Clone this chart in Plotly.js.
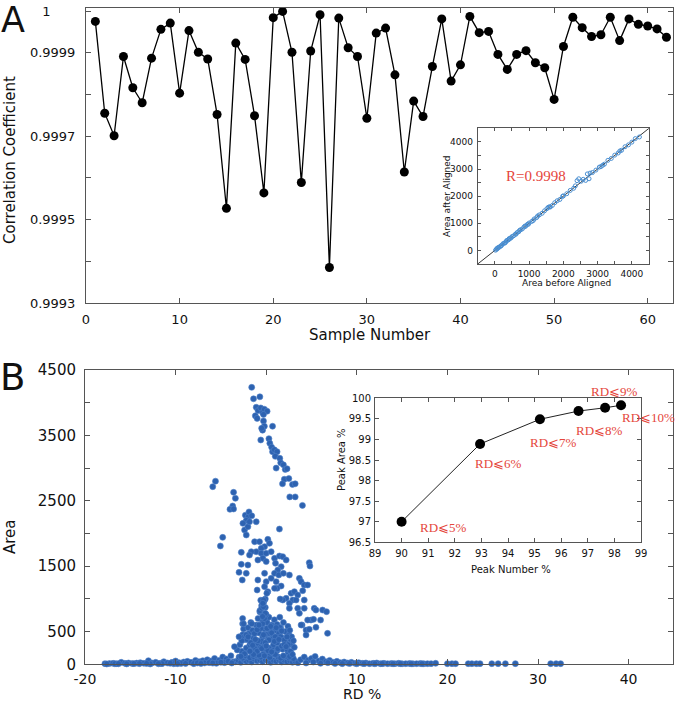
<!DOCTYPE html>
<html>
<head>
<meta charset="utf-8">
<script src="https://cdn.plot.ly/plotly-3.0.1.min.js"></script>
<style>
  body { margin: 0; background: #fff; }
  #chart { width: 675px; height: 704px; }
</style>
</head>
<body>
<div id="chart"></div>
<script>
// Panel A: correlation coefficient per sample
const sampleNo = [];
for (let i = 1; i <= 62; i++) sampleNo.push(i);
const corrCoef = [
  0.999975, 0.999755, 0.999701, 0.999891, 0.999816, 0.99978, 0.999887, 0.999956, 0.999971, 0.999803,
  0.999953, 0.999901, 0.999885, 0.999752, 0.999527, 0.999923, 0.999884, 0.999749, 0.999564, 0.999984,
  0.999999, 0.999901, 0.999589, 0.999904, 0.999991, 0.999385, 0.999983, 0.999912, 0.999891, 0.999743,
  0.999947, 0.999959, 0.999847, 0.999614, 0.999784, 0.999747, 0.999867, 0.999981, 0.999832, 0.999871,
  0.999987, 0.999948, 0.999951, 0.999896, 0.99986, 0.999896, 0.999905, 0.999876, 0.999864, 0.999788,
  0.999915, 0.999985, 0.99996, 0.999939, 0.999943, 0.999985, 0.999929, 0.999981, 0.999968, 0.999964,
  0.999957, 0.999937
];

// inset A: area before vs after alignment
const areaBefore = [20, 50, 80, 100, 130, 160, 200, 240, 280, 320, 360, 400, 450, 500, 550, 600, 650, 700, 750, 800,
  850, 900, 950, 1000, 1080, 1150, 1220, 1300, 1380, 1450, 1520, 1600, 1680, 1750, 1820, 1900, 2000, 2100, 2200, 2300,
  2350, 2400, 2450, 2520, 2580, 2650, 2750, 2700, 2780, 2850, 2950, 3050, 3100, 3200, 3300, 3400, 3500, 3600, 3700, 3800,
  3900, 4000, 4100, 4220, 300, 420, 620, 880, 1120, 1560, 60, 180, 340, 480, 720, 980, 1250, 1620, 1980, 3150, 3650];
const areaAfter = [10, 40, 70, 110, 120, 150, 190, 250, 270, 310, 370, 390, 440, 510, 540, 600, 660, 690, 760, 790,
  860, 890, 960, 1010, 1070, 1160, 1210, 1310, 1370, 1460, 1540, 1610, 1660, 1760, 1830, 1880, 2010, 2090, 2210, 2290,
  2380, 2570, 2640, 2550, 2620, 2580, 2640, 2820, 2850, 2870, 2960, 3070, 3090, 3180, 3320, 3390, 3510, 3590, 3690, 3820,
  3890, 3990, 4120, 4180, 280, 440, 600, 900, 1100, 1590, 75, 170, 355, 470, 735, 965, 1270, 1600, 1995, 3140, 3665];
const diagX = [-500, 4500];

// Panel B: area vs RD %
const upperRD = [-1.6, -1.4, -0.7, -1.1, -0.9, -1.2, -0.6, -1.0, -0.4, -0.2, 0.1, -0.3, -0.3, -0.2, -0.4, -0.5, 0.7, -0.6,
  0.3, 0.4, 0.6, 0.7, 0.9, 1.2, 1.0, 1.5, 1.6, 1.1, 1.9, 2.1, 2.3, 2.0, 2.5, 2.9, 1.8, 3.2, 2.6, 3.2, 4.0];
const upperArea = [4235, 4060, 4090, 3930, 3880, 3800, 3920, 3760, 3850, 3900, 3870, 3820, 3720, 3640, 3580, 3610, 3640, 3430,
  3450, 3380, 3320, 3250, 3280, 3250, 3180, 3150, 3080, 3000, 3050, 2980, 2990, 2830, 2840, 2750, 2760, 2760, 2560, 2560, 2430];

const midRD = [-5.9, -5.6, -3.6, -3.4, -3.7, -4.0, -3.6, -2.3, -2.0, -1.9, -2.2, -1.6,
  -2.57, -2.39, -2.02, -2.2, -1.84, -1.1, 1.46, -4.8, -5.06, -1.28, -0.74, 0.18, 0.36, -0.18, -0.55, -1.1, -1.65, -1.84,
  -0.55, 0.0, 0.55, -2.75, -0.37, -0.92, 0.0, 0.92, 1.46, 1.83, 2.2, 1.03, 1.65, 1.28, 0.92, 4.75, 4.83,
  -2.75, -2.02, -3.0, -2.2, -2.64, -0.92, -0.18, 0.0, 0.55, 1.39, 1.9, 2.56, 1.1, 1.65, 1.21, 0.92,
  -1.0, -0.18, 0.18, 0.07, -0.29, -0.37, 2.75, 3.66, 3.85, 4.2, 4.57, 3.11, 3.48, 4.03,
  2.93, 3.3, 2.2, 1.83, 1.54, 2.56, 2.56, 4.2, 4.2, 3.48, 3.66, 5.3, 5.49, 6.22, 6.66,
  4.94, 4.57, 5.23, 3.96, 4.4, 4.75, 5.49, 6.77, 4.4, 3.85, 6.0];
const midArea = [2716, 2800, 2630, 2538, 2420, 2370, 2375, 2280, 2250, 2330, 2200, 2270,
  2155, 2053, 2104, 1977, 2180, 2180, 2068, 1941, 1809, 1875, 1875, 1911, 1850, 1799, 1773, 1722, 1722, 1671,
  1697, 1697, 1722, 1712, 1621, 1595, 1570, 1621, 1656, 1646, 1595, 1544, 1493, 1442, 1391, 1554, 1503,
  1529, 1518, 1406, 1391, 1289, 1289, 1391, 1264, 1314, 1365, 1391, 1365, 1264, 1197, 1162, 1162,
  1136, 1187, 1111, 1085, 983, 932, 1085, 1314, 1264, 1213, 1213, 1111, 1060, 1126,
  983, 983, 1009, 983, 998, 932, 856, 983, 856, 856, 779, 856, 830, 830, 805,
  677, 677, 687, 601, 524, 535, 565, 473, 448, 601, 677];

const lowRD = [-2.6, -2.6, -2.5, -2.6, -2.3, -2.0, -1.9, -1.7, -1.5, -1.4, -1.2, -1.1, -0.9, -0.8, -0.7, -0.6, -0.5, -0.4,
  -0.4, -0.3, -0.2, -0.2, -0.1, 0.0, 0.1, 0.2, 0.3, 0.5, 0.6, 0.7, 0.9, 1.0, 1.1, 1.2, 1.4, 1.5, 1.6, 1.8, 1.9, 2.1,
  2.2, 2.4, 2.5, 2.7, 2.8, -3.2, -2.9, -2.2, -1.8, -1.3, -0.9, -0.6, -0.2, 0.3, 0.8, 1.3, 1.7, 2.3, 2.7, -0.1,
  -0.3, 0.0, -0.6, -3.5, -2.4, -1.6, -0.8, 0.4, 1.0, 1.9, 2.6, -1.0, -0.5, 0.2, 0.6, -1.4, -2.8, 2.9, 3.1, -0.2,
  -0.5, -0.3, -0.6, -0.4, -0.2, -0.7, -0.5, -0.3, -0.1, -0.4, -2.4, -2.1, -1.7, -1.3, -0.9, 0.4, 0.8, 1.2, 1.6, 2.0,
  2.4, 2.8, -2.7, -2.2, -1.5, -1.0, 0.1, 0.6, 1.0, 1.5, 2.0, 2.6, -1.8, -1.2, 0.3, 0.9, 1.4, 2.2, -3.0, 3.0,
  -0.8, -0.1, 0.5, 1.1, 1.7, -2.0, -1.6, 2.3, -2.5, 0.0];
const lowArea = [700, 620, 540, 450, 380, 560, 470, 640, 520, 400, 330, 600, 700, 480, 800, 560, 900, 650,
  420, 750, 980, 540, 870, 460, 640, 380, 720, 520, 600, 430, 680, 520, 360, 610, 470, 720, 560, 400, 640, 500,
  330, 580, 450, 380, 300, 220, 300, 250, 300, 250, 320, 260, 300, 250, 300, 240, 280, 230, 200, 1000,
  940, 760, 980, 270, 160, 180, 140, 170, 150, 130, 120, 200, 240, 210, 190, 150, 120, 150, 260, 130,
  350, 450, 550, 620, 700, 820, 860, 880, 780, 730, 420, 380, 330, 470, 360, 470, 400, 330, 420, 370,
  300, 420, 360, 450, 290, 530, 550, 480, 420, 560, 300, 520, 200, 380, 370, 350, 380, 270, 420, 360,
  600, 330, 580, 560, 510, 420, 620, 420, 620, 280];

const baseRD = [-17.8, -17.3, -16.9, -16.5, -16.0, -15.6, -15.2, -14.8, -14.3, -13.9, -13.5, -13.0, -12.6, -12.2, -11.7,
  -11.3, -10.9, -10.4, -10.0, -9.6, -9.1, -8.7, -8.3, -7.8, -7.4, -7.0, -6.5, -6.1, -5.7, -5.2, -4.8, -4.4, -3.9,
  -17.6, -16.7, -15.4, -14.0, -12.8, -11.5, -10.2, -9.4, -8.0, -6.8, -5.5, -4.6, -3.6,
  -3.4, -3.1, -2.8, -2.5, -2.2, -1.9, -1.6, -1.3, -1.0, -0.7, -0.4, -0.1, 0.2, 0.5, 0.8, 1.1, 1.4, 1.7, 2.0, 2.3, 2.6, 2.9, 3.2, 3.5,
  -3.0, -2.6, -2.3, -1.8, -1.4, -1.1, -0.6, -0.3, 0.1, 0.4, 0.9, 1.3, 1.6, 2.2, 2.5, 3.0,
  -2.7, -2.1, -1.5, -0.9, -0.2, 0.3, 0.7, 1.2, 1.8, 2.4,
  3.8, 4.2, 4.6, 5.0, 5.4, 5.8, 6.2, 6.6, 7.0, 7.4, 7.8, 8.2, 8.6, 9.0, 9.4, 9.8, 10.2, 10.6, 11.0, 11.4, 11.8, 12.2,
  12.6, 13.0, 13.4, 13.8, 14.2, 14.6, 15.0, 15.4, 15.8, 16.2, 16.6, 17.0, 17.4, 17.8, 18.2, 18.7, 20.0, 20.5, 20.9,
  22.3, 22.7, 23.2, 23.6, 24.9, 25.6, 26.4, 27.5, 31.4, 32.0, 32.5,
  -16.3, -14.6, -13.2, -11.9, -10.6, -9.8, -8.9, -7.6, -7.2, -6.3, -5.9, -5.0, -4.2, -3.8, 4.4, 5.2, 6.0, 6.8, 7.6,
  8.4, 9.2, 10.0, 10.8, 12.0, 12.8, 14.0, 14.8, 16.0, 17.2];
const baseArea = [10, 12, 15, 10, 30, 15, 20, 12, 18, 25, 15, 55, 20, 30, 15,
  40, 20, 30, 50, 25, 35, 45, 30, 60, 40, 55, 70, 50, 90, 60, 110, 80, 130,
  5, 8, 6, 10, 5, 10, 8, 12, 10, 20, 15, 25, 40,
  40, 60, 30, 70, 45, 60, 35, 80, 50, 65, 40, 70, 55, 30, 60, 45, 70, 35, 60, 40, 55, 30, 45, 25,
  110, 95, 130, 100, 120, 140, 110, 160, 125, 105, 150, 115, 95, 120, 100, 90,
  200, 230, 210, 250, 240, 220, 260, 210, 230, 190,
  70, 110, 60, 90, 120, 50, 80, 40, 60, 30, 45, 25, 35, 20, 30, 15, 25, 15, 20, 10, 15, 20,
  10, 15, 10, 12, 10, 15, 8, 10, 12, 8, 10, 12, 8, 10, 10, 15, 10, 10, 10,
  10, 10, 10, 10, 10, 10, 10, 10, 10, 10, 10,
  8, 10, 12, 8, 15, 10, 12, 20, 12, 25, 18, 30, 45, 20, 20, 35, 15, 25, 12,
  10, 12, 8, 10, 8, 10, 8, 10, 8, 8];

// inset B
const peakNumber = [90, 92.95, 95.2, 96.65, 97.65, 98.25];
const peakArea = [97.0, 98.89, 99.49, 99.69, 99.77, 99.83];
const rdLabels = ['RD⩽5%', 'RD⩽6%', 'RD⩽7%', 'RD⩽8%', 'RD⩽9%', 'RD⩽10%'];
const rdLabelPx = [443, 498, 553, 599, 614, 648];
const rdLabelPy = [527, 463, 442, 430, 391, 417];

const W = 675, H = 704;
const px = v => v / W;
const py = v => 1 - v / H;
const FONT = 'DejaVu Sans';
const SERIF = 'Liberation Serif';
const RED = '#e5463c';
const BLUE = 'rgb(45,98,176)';

function boxAxis(extra) {
  return Object.assign({
    showline: true, mirror: 'ticks', linecolor: '#555', linewidth: 1,
    ticks: 'inside', ticklen: 5, tickcolor: '#555', tickwidth: 1,
    zeroline: false, showgrid: false, fixedrange: true
  }, extra);
}

const blueDots = (x, y) => ({
  x: x, y: y, xaxis: 'x3', yaxis: 'y3', type: 'scatter', mode: 'markers', cliponaxis: false,
  marker: { color: BLUE, size: 6, line: { color: 'rgb(80,130,200)', width: 0.6 } },
  hoverinfo: 'skip'
});

const data = [
  {
    x: sampleNo, y: corrCoef, type: 'scatter', mode: 'lines+markers',
    line: { color: '#000', width: 1.3 },
    marker: { color: '#000', size: 9 }
  },
  {
    x: diagX, y: diagX, xaxis: 'x2', yaxis: 'y2', type: 'scatter', mode: 'lines',
    line: { color: '#000', width: 0.8 }
  },
  {
    x: areaBefore, y: areaAfter, xaxis: 'x2', yaxis: 'y2', type: 'scatter', mode: 'markers',
    marker: { symbol: 'circle-open', color: '#4a8fd2', size: 4, line: { width: 1 } }
  },
  blueDots(baseRD, baseArea),
  blueDots(lowRD, lowArea),
  blueDots(midRD, midArea),
  blueDots(upperRD, upperArea),
  {
    x: peakNumber, y: peakArea, xaxis: 'x4', yaxis: 'y4', type: 'scatter', mode: 'lines+markers',
    cliponaxis: false,
    line: { color: '#222', width: 1 },
    marker: { color: '#000', size: 10 }
  }
];

const aTickVals = [1.0, 0.9999, 0.9998, 0.9997, 0.9996, 0.9995, 0.9994, 0.9993];
const aTickText = ['1\u00a0\u00a0\u00a0\u00a0\u00a0\u00a0', '0.9999', '', '0.9997', '', '0.9995', '', '0.9993'];
const insetVals = [0, 500, 1000, 1500, 2000, 2500, 3000, 3500, 4000];
const insetText = ['0', '', '1000', '', '2000', '', '3000', '', '4000'];
const bVals = [0, 500, 1000, 1500, 2000, 2500, 3000, 3500, 4000, 4500];
const bText = ['0', '500', '', '1500', '', '2500', '', '3500', '', '4500'];
const rdTicks = [-20, -10, 0, 10, 20, 30, 40];
const rdTickText = ['-20', '-10', '0', '10', '20', '30', '40'];

const ann = (text, x, y, size, extra) => Object.assign({
  text: text, x: px(x), y: py(y), xref: 'paper', yref: 'paper', showarrow: false,
  xanchor: 'center', yanchor: 'middle', font: { family: FONT, size: size, color: '#111' }
}, extra || {});

const annotations = [
  ann('A', 13, 20, 35),
  ann('B', 12, 377, 37),
  ann('Sample Number', 370, 335, 15),
  ann('Correlation Coefficient', 10, 160, 15, { textangle: -90 }),
  ann('Area before Aligned', 566, 283, 9),
  ann('Area after Aligned', 447, 196, 9, { textangle: -90 }),
  ann('R=0.9998', 536, 176, 15, { font: { family: SERIF, size: 15, color: RED } }),
  ann('RD %', 362, 694, 14),
  ann('Area', 10, 537, 15, { textangle: -90 }),
  ann('Peak Number %', 511, 569, 10),
  ann('Peak Area %', 341, 460, 10, { textangle: -90 })
];
rdLabels.forEach((t, i) => annotations.push(
  ann(t, rdLabelPx[i], rdLabelPy[i], 13, { font: { family: SERIF, size: 13, color: RED } })
));

const layout = {
  width: W, height: H,
  margin: { l: 0, r: 0, t: 0, b: 0 },
  paper_bgcolor: '#fff', plot_bgcolor: 'rgba(0,0,0,0)',
  showlegend: false,
  font: { family: FONT, color: '#111' },
  xaxis: boxAxis({
    domain: [px(86), px(673)], range: [0, 62.7], anchor: 'y',
    tickvals: [0, 10, 20, 30, 40, 50, 60], tickfont: { size: 13 }, ticklabelstandoff: 4
  }),
  yaxis: boxAxis({
    domain: [py(303), py(8)], range: [0.9993, 1.0000072], anchor: 'x',
    tickvals: aTickVals, ticktext: aTickText, tickfont: { size: 13 }, ticklabelstandoff: 7
  }),
  xaxis2: boxAxis({
    domain: [px(477.7), px(649)], range: [-500, 4500], anchor: 'y2',
    tickvals: insetVals, ticktext: insetText, ticklen: 3, tickfont: { size: 9 }, ticklabelstandoff: 1
  }),
  yaxis2: boxAxis({
    domain: [py(264), py(128.3)], range: [-500, 4500], anchor: 'x2',
    tickvals: insetVals, ticktext: insetText, ticklen: 3, tickfont: { size: 9 }, ticklabelstandoff: 2
  }),
  xaxis3: boxAxis({
    domain: [px(85), px(673)], range: [-20, 44.9], anchor: 'y3',
    tickvals: rdTicks, ticktext: rdTickText, tickfont: { size: 14 }, ticklabelstandoff: 2
  }),
  yaxis3: boxAxis({
    domain: [py(664.3), py(370)], range: [0, 4500], anchor: 'x3',
    tickvals: bVals, ticktext: bText, tickfont: { size: 15 }, ticklabelstandoff: 5
  }),
  xaxis4: boxAxis({
    domain: [px(375), px(641)], range: [89, 99], anchor: 'y4',
    dtick: 1, tick0: 89, ticklen: 4, tickfont: { size: 10 }, ticklabelstandoff: 2
  }),
  yaxis4: boxAxis({
    domain: [py(542.3), py(398.3)], range: [96.5, 100], anchor: 'x4',
    dtick: 0.5, tick0: 96.5, ticklen: 4, tickfont: { size: 10 }, ticklabelstandoff: 1
  }),
  annotations: annotations
};

Plotly.newPlot('chart', data, layout, { displayModeBar: false, staticPlot: true });
</script>
</body>
</html>
